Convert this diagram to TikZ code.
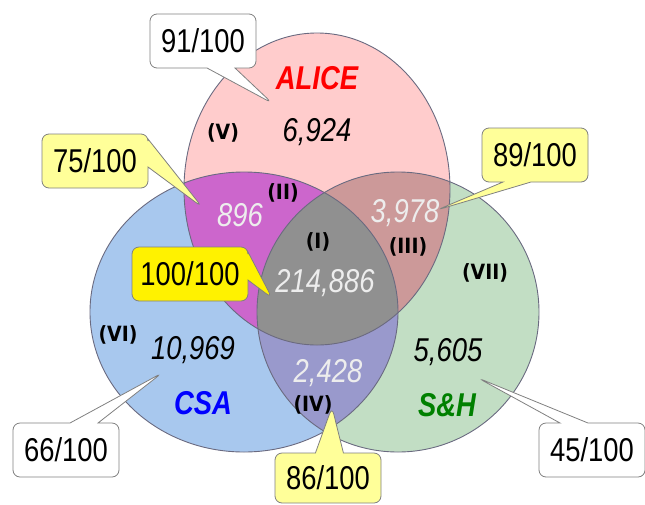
\documentclass[tikz,border=0pt]{standalone}
\usepackage{fontspec}
\setmainfont{Liberation Sans}[FakeStretch=0.83]
\newfontfamily\romfont{DejaVu Sans}[FakeStretch=0.9]
\usetikzlibrary{shapes.callouts}
\definecolor{alicefill}{HTML}{FFCCCC}
\definecolor{csafill}{HTML}{A8C8EE}
\definecolor{shfill}{HTML}{C2DEC4}
\definecolor{acfill}{HTML}{CC66CC}
\definecolor{asfill}{HTML}{CC9999}
\definecolor{csfill}{HTML}{9999CC}
\definecolor{allfill}{HTML}{909090}
\definecolor{ringline}{HTML}{6A6A80}
\definecolor{tagline}{HTML}{808080}
\definecolor{paleyellow}{HTML}{FFFF99}
\definecolor{shgreen}{HTML}{008000}
\def\alicepath{(317,189) ellipse [x radius=133pt, y radius=156pt]}
\def\csapath{(244,312) ellipse [x radius=154pt, y radius=140pt]}
\def\shpath{(398,312) ellipse [x radius=141pt, y radius=140pt]}
\begin{document}
\begin{tikzpicture}[x=1pt,y=-1pt,
    ring/.style={draw=ringline,line width=.9pt},
    num/.style={font=\itshape\fontsize{33}{36}\selectfont},
    litenum/.style={num,text=black!7},
    roman/.style={font=\romfont\bfseries\fontsize{21}{24}\selectfont},
    setname/.style={font=\bfseries\itshape\fontsize{33}{36}\selectfont},
    tag/.style={rectangle callout,draw=tagline,line width=.8pt,rounded corners=7pt,
        minimum width=106pt,minimum height=54pt,inner sep=0pt,
        callout pointer width=28pt,font=\fontsize{33}{36}\selectfont}]
    \useasboundingbox (0,0) rectangle (645,504);
    % the three sets
    \fill[alicefill] \alicepath;
    \fill[csafill] \csapath;
    \fill[shfill] \shpath;
    \begin{scope}
        \clip \csapath;
        \fill[acfill] \alicepath;
        \fill[csfill] \shpath;
    \end{scope}
    \begin{scope}
        \clip \alicepath;
        \fill[asfill] \shpath;
    \end{scope}
    \begin{scope}
        \clip \csapath;
        \clip \alicepath;
        \fill[allfill] \shpath;
    \end{scope}
    \draw[ring] \alicepath;
    \draw[ring] \csapath;
    \draw[ring] \shpath;
    % names
    \node[setname,text=red] (alice) at (317,78) {ALICE};
    \node[setname,text=blue] (csa) at (203,403) {CSA};
    \node[setname,text=shgreen] (sh) at (447,405) {S\&H};
    % counts
    \node[num] (n5) at (317,132) {6,924};
    \node[litenum] (n2) at (240,215) {896};
    \node[litenum] (n1) at (325,283) {214,886};
    \node[litenum] (n3) at (405,213) {3,978};
    \node[litenum] (n4) at (328,373) {2,428};
    \node[num] (n6) at (193,350) {10,969};
    \node[num] (n7) at (448,352) {5,605};
    % region numbers
    \node[roman] (r5) at (223,133) {(V)};
    \node[roman] (r2) at (283,193) {(II)};
    \node[roman] (r1) at (318,242) {(I)};
    \node[roman] (r3) at (408,247) {(III)};
    \node[roman] (r7) at (485,273) {(VII)};
    \node[roman] (r6) at (118,335) {(VI)};
    \node[roman] (r4) at (313,405) {(IV)};
    % scores
    \coordinate (p5) at (272,103);
    \coordinate (p2) at (202,207);
    \coordinate (p3) at (437,210);
    \coordinate (p1) at (272,298);
    \coordinate (p6) at (162,373);
    \coordinate (p4) at (332,407);
    \coordinate (p7) at (478,378);
    \node[tag,fill=white,callout absolute pointer={(p5)}] (s5) at (203,41) {91/100};
    \node[tag,fill=paleyellow,callout absolute pointer={(p2)}] (s2) at (95,161) {75/100};
    \node[tag,fill=paleyellow,callout absolute pointer={(p3)}] (s3) at (535,155) {89/100};
    \node[tag,fill=yellow,minimum width=116pt,callout absolute pointer={(p1)}] (s1) at (190,274) {100/100};
    \node[tag,fill=white,callout absolute pointer={(p6)}] (s6) at (66,450) {66/100};
    \node[tag,fill=paleyellow,minimum height=50pt,callout absolute pointer={(p4)}] (s4) at (328,478) {86/100};
    \node[tag,fill=white,callout absolute pointer={(p7)}] (s7) at (592,450) {45/100};
\end{tikzpicture}
\end{document}
